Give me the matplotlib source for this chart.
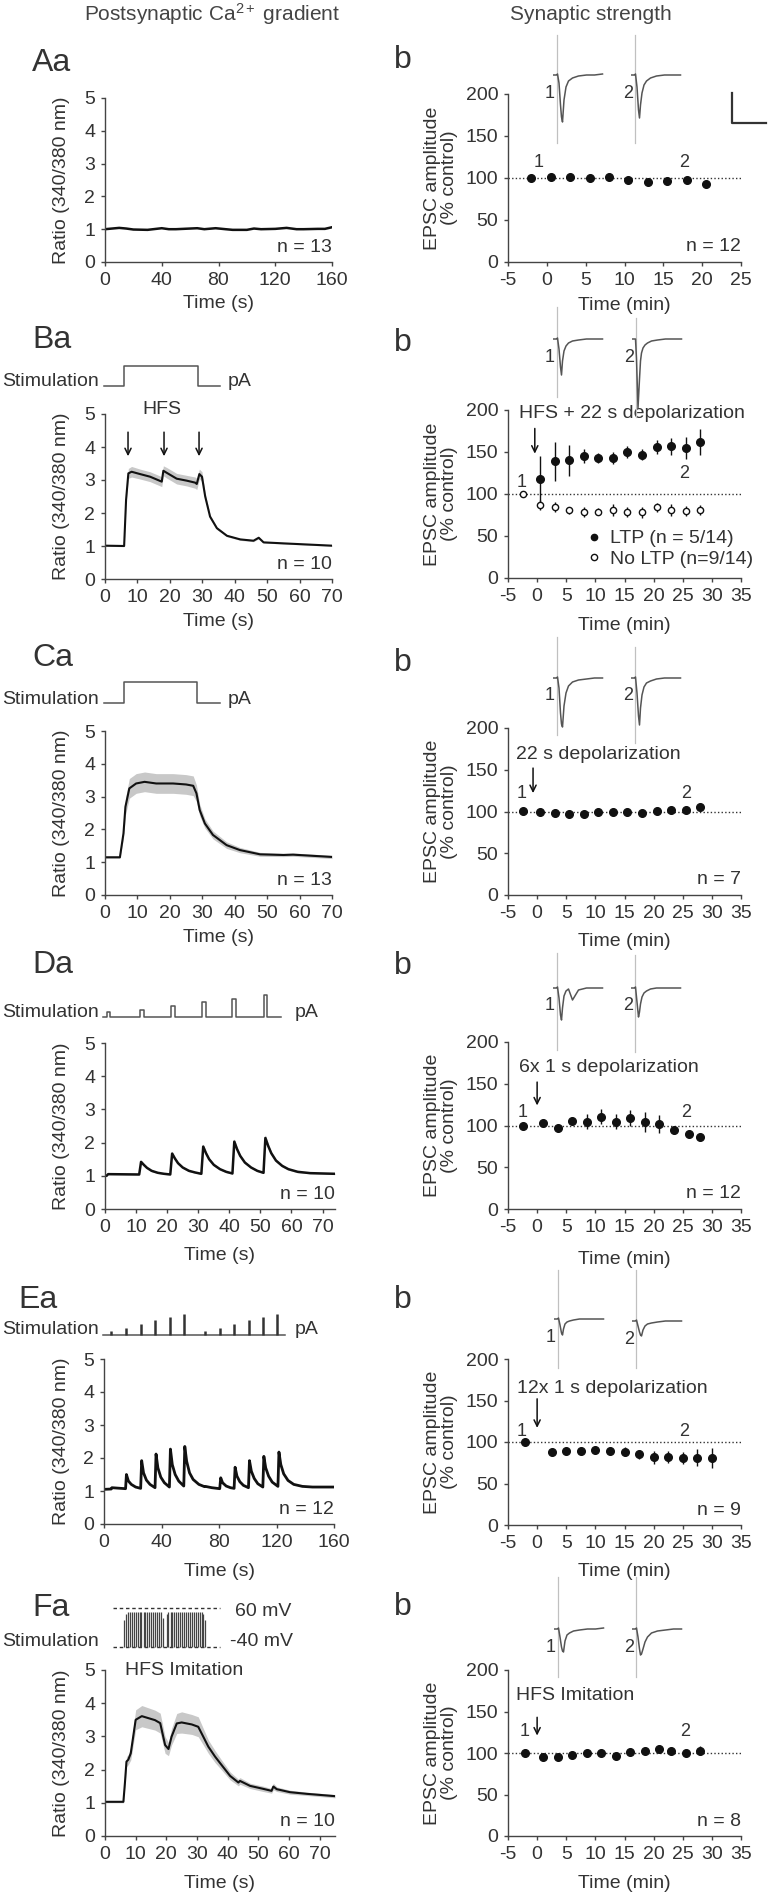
import matplotlib
matplotlib.use('Agg')
import matplotlib.pyplot as plt
from matplotlib.lines import Line2D
import numpy as np

plt.rcParams['font.family'] = ['Liberation Sans', 'DejaVu Sans']
plt.rcParams['mathtext.fontset'] = 'custom'
plt.rcParams['mathtext.rm'] = 'Liberation Sans'
plt.rcParams['mathtext.it'] = 'Liberation Sans:italic'
plt.rcParams['mathtext.bf'] = 'Liberation Sans:bold'
plt.rcParams['axes.unicode_minus'] = False

# ------------------------------------------------------------------ data
# Ca2+ ratio traces (time s, mean ratio, sem)
ca_A_t = [0, 5, 10, 15, 20, 30, 40, 45, 50, 60, 65, 70, 78, 85, 90, 100, 105, 110, 120, 128, 135, 140, 150, 155, 160]
ca_A_r = [1.0, 1.02, 1.04, 1.02, 0.99, 0.98, 1.03, 1.0, 1.0, 1.02, 1.03, 1.0, 1.03, 1.0, 0.98, 0.98, 1.02, 1.0, 1.01, 1.04, 1.0, 1.0, 1.01, 1.01, 1.06]

ca_B_t = [0, 5.9, 6.5, 7.2, 8.2, 10.8, 13.9, 17.5, 18.0, 19.0, 22.1, 25.2, 27.8, 28.3, 29.1, 29.9, 30.9, 32.4, 34.5, 37.6, 41.7, 45.8, 47.4, 48.9, 55, 70]
ca_B_r = [1.01, 1.0, 2.4, 3.2, 3.25, 3.18, 3.1, 2.95, 3.28, 3.22, 3.04, 2.98, 2.92, 2.88, 3.18, 3.1, 2.5, 1.89, 1.54, 1.31, 1.2, 1.16, 1.25, 1.11, 1.08, 1.01]
ca_B_s = [0.02, 0.02, 0.1, 0.15, 0.16, 0.15, 0.15, 0.15, 0.15, 0.16, 0.16, 0.16, 0.17, 0.17, 0.15, 0.15, 0.1, 0.06, 0.04, 0.03, 0.03, 0.03, 0.03, 0.02, 0.02, 0.02]

ca_C_t = [0, 4.6, 5.7, 6.3, 7.5, 9.6, 12.2, 15.8, 21, 25, 27.2, 28.2, 29.2, 30.8, 33.3, 37.5, 41.6, 47.8, 55, 58, 70]
ca_C_r = [1.15, 1.15, 1.88, 2.69, 3.25, 3.4, 3.45, 3.4, 3.4, 3.37, 3.33, 3.1, 2.59, 2.18, 1.83, 1.52, 1.37, 1.24, 1.22, 1.23, 1.16]
ca_C_s = [0.03, 0.03, 0.15, 0.25, 0.3, 0.3, 0.3, 0.3, 0.3, 0.3, 0.3, 0.25, 0.18, 0.14, 0.12, 0.1, 0.08, 0.06, 0.05, 0.05, 0.05]

ca_D_t = [0, 0.5, 1, 11, 11.6, 12.5, 13.5, 15, 17, 19, 21, 21.6, 22.5, 23.5, 25, 27, 29, 31, 31.6, 32.5, 33.5, 35, 37, 39, 41,
          41.6, 42.5, 43.5, 45, 47, 49, 51, 51.6, 52.5, 53.5, 55, 57, 59, 62, 66, 74]
ca_D_r = [1.0, 1.0, 1.05, 1.04, 1.42, 1.33, 1.24, 1.15, 1.09, 1.06, 1.04, 1.67, 1.52, 1.38, 1.25, 1.15, 1.1, 1.06, 1.88, 1.68, 1.5, 1.33, 1.2, 1.12, 1.07,
          2.03, 1.8, 1.6, 1.4, 1.25, 1.15, 1.09, 2.14, 1.9, 1.68, 1.46, 1.3, 1.2, 1.12, 1.08, 1.06]
ca_D_s = [0.02, 0.02, 0.02, 0.02, 0.05, 0.04, 0.03, 0.03, 0.02, 0.02, 0.02, 0.07, 0.05, 0.04, 0.03, 0.03, 0.02, 0.02, 0.08, 0.06, 0.05, 0.04, 0.03, 0.03, 0.02,
          0.09, 0.07, 0.05, 0.04, 0.03, 0.03, 0.02, 0.1, 0.08, 0.06, 0.05, 0.04, 0.03, 0.03, 0.02, 0.02]

ca_E_t = [0, 5, 5.5, 15, 15.6, 17, 19, 22, 25.5, 26.2, 27.5, 29.5, 32, 35.5, 36.2, 37.5, 39.5, 42, 45.5, 46.2, 47.5, 49.5, 52, 55.5,
          56.2, 57.5, 59.5, 62, 66, 70, 70.5, 75, 80.5, 81.2, 82.5, 85, 88, 90.5, 91.2, 92.5, 94.5, 97, 100.5, 101.2, 102.5, 104.5, 107, 110.5,
          111.2, 112.5, 114.5, 117, 121, 121.7, 123, 125, 128, 132, 138, 145, 160]
ca_E_r = [1.05, 1.06, 1.1, 1.07, 1.5, 1.3, 1.2, 1.12, 1.08, 1.92, 1.55, 1.33, 1.2, 1.1, 2.12, 1.7, 1.42, 1.25, 1.12, 2.27, 1.8, 1.5, 1.3, 1.15,
          2.35, 1.9, 1.55, 1.35, 1.2, 1.13, 1.14, 1.1, 1.07, 1.4, 1.25, 1.15, 1.1, 1.08, 1.72, 1.45, 1.28, 1.17, 1.1, 1.92, 1.6, 1.38, 1.22, 1.12,
          2.05, 1.7, 1.45, 1.27, 1.14, 2.18, 1.8, 1.52, 1.32, 1.2, 1.14, 1.12, 1.12]

ca_F_t = [0, 6.0, 6.5, 7.0, 7.6, 8.4, 10.0, 12.0, 16.3, 18.0, 19.6, 20.7, 21.7, 23.4, 25.0, 28.3, 30.4, 32.0, 33.7, 35.9,
          38.0, 40.8, 43.5, 44.0, 47.3, 51.6, 54.3, 54.9, 56.0, 60.3, 65.8, 75]
ca_F_r = [1.03, 1.03, 1.6, 2.24, 2.3, 2.49, 3.5, 3.61, 3.49, 3.4, 2.74, 2.62, 2.99, 3.39, 3.42, 3.36, 3.29, 3.0, 2.69, 2.39,
          2.14, 1.81, 1.61, 1.66, 1.51, 1.42, 1.36, 1.49, 1.41, 1.32, 1.27, 1.2]
ca_F_s = [0.03, 0.03, 0.1, 0.15, 0.15, 0.2, 0.3, 0.32, 0.3, 0.3, 0.25, 0.2, 0.25, 0.3, 0.32, 0.3, 0.3, 0.25, 0.2, 0.18,
          0.15, 0.12, 0.1, 0.1, 0.08, 0.08, 0.07, 0.1, 0.07, 0.06, 0.05, 0.05]

# stimulation protocols
stim_B_t = [-0.2, 6.0, 6.0, 28.6, 28.6, 35.5]
stim_B_v = [0, 0, 1, 1, 0, 0]
stim_C_t = [-0.2, 5.8, 5.8, 28.5, 28.5, 35.4]
stim_C_v = [0, 0, 1, 1, 0, 0]
stim_D_on = [0.5, 11.2, 21.3, 31.3, 41.0, 51.0]
stim_D_amp = [1.0, 1.4, 2.2, 3.0, 3.6, 4.4]
stim_D_dur = 1.2
stim_D_span = [-0.5, 56.6]
stim_E_t = [5.1, 15.5, 26.0, 35.7, 45.7, 55.7, 70.0, 80.5, 90.4, 100.6, 110.6, 120.6]
stim_E_amp = [1.0, 1.7, 2.5, 3.5, 4.1, 5.0, 1.0, 1.7, 2.5, 3.5, 4.1, 5.0]
stim_E_span = [-0.7, 125.7]
stim_F_span = [2.6, 37.5]
stim_F_levels = [60, -40]
stim_F_t = [6.3, 6.9, 7.5, 8.1, 8.8, 9.4, 10.0, 10.7, 11.3, 11.9, 12.6, 13.2, 13.8, 14.5, 15.1, 15.7, 16.4, 17.0, 17.6, 18.3, 18.9,
            20.1, 20.7, 21.4, 22.0, 22.6, 23.3, 23.9, 24.5, 25.2, 25.8, 26.4, 27.1, 27.7, 28.3, 29.0, 29.6, 30.2, 30.9, 31.5, 32.1, 32.6]
stim_F_peak = [30, 45, 50, 50, 50, 50, 50, 50, 50, 50, 50, 50, 50, 50, 50, 50, 50, 50, 50, 50, 35,
               45, 50, 50, 50, 50, 50, 50, 50, 50, 50, 50, 50, 50, 50, 50, 50, 50, 50, 50, 45, 30]

# EPSC amplitude time courses (min, % control, sem)
ab_x = [-2, 0.5, 3, 5.5, 8, 10.5, 13, 15.5, 18, 20.5]
ab_y = [100.4, 100.8, 101.6, 100.4, 101.6, 97.6, 95.2, 96, 97.6, 92.9]
ab_e = [2, 2, 2, 2, 3, 3, 4, 4, 4, 4]

bb_ltp_x = [0.5, 3, 5.5, 8, 10.5, 13, 15.5, 18, 20.5, 23, 25.5, 28]
bb_ltp_y = [117.5, 139, 140, 145, 143, 143, 149.6, 147, 156, 157, 155, 162]
bb_ltp_e = [28, 23, 18, 8, 6, 7, 7, 6, 8, 10, 13, 15]
bb_no_x = [-2.5, 0.5, 3, 5.5, 8, 10.5, 13, 15.5, 18, 20.5, 23, 25.5, 28]
bb_no_y = [100, 87, 85, 80.5, 79, 79, 81, 79, 78, 84, 81, 80, 81]
bb_no_e = [0, 6, 6, 4, 6, 4, 7, 6, 7, 5, 7, 6, 6]

cb_x = [-2.5, 0.5, 3, 5.5, 8, 10.5, 13, 15.5, 18, 20.5, 23, 25.5, 28]
cb_y = [100.6, 99, 98, 97.5, 97, 99.8, 99.4, 99.4, 98.6, 101, 101.4, 101.4, 105.8]
cb_e = [1, 1, 1, 1, 1, 1, 1, 1, 2, 2, 2, 2, 2]

db_x = [-2.5, 1, 3.5, 6, 8.5, 11, 13.5, 16, 18.5, 21, 23.5, 26, 28]
db_y = [100, 103, 97.5, 105, 104.5, 110.5, 104.5, 109, 104.5, 102, 94.5, 90, 86]
db_e = [2, 3, 2, 3, 9, 9, 9, 9, 12, 11, 5, 3, 3]

eb_x = [-2, 2.5, 5, 7.5, 10, 12.5, 15, 17.5, 20, 22.5, 25, 27.5, 30]
eb_y = [100.4, 88.3, 89, 89.6, 90.4, 89.6, 88.4, 85, 81.7, 81.7, 81, 81, 81]
eb_e = [1, 2, 2, 2, 2, 4, 5, 5, 8, 7, 7, 10, 12]

fb_x = [-2, 1, 3.5, 6, 8.5, 11, 13.5, 16, 18.5, 21, 23, 25.5, 28]
fb_y = [100.4, 94.8, 95, 97, 99.6, 99.6, 96.4, 101, 103, 104.5, 102.6, 100.4, 103]
fb_e = [2, 2, 3, 2, 2, 2, 2, 2, 2, 3, 3, 4, 5]

# example EPSC traces (ms, relative current) and stimulus artifacts (up, down)
tr_t = [0, 4, 5, 6.5, 8, 9, 10, 11.5, 13.5, 16, 20, 26, 34, 42, 50]
epsc_A1 = [0, 0, 1, -8, -30, -42, -47, -25, -12, -6, -3, -1, 0, 0, 1]
epsc_A2 = [0, 0, 1, -12, -35, -43, -30, -18, -10, -6, -3, -1, 0, 0, 0]
epsc_B1 = [0, 0, 1, -10, -28, -36, -22, -12, -7, -4, -2, -1, 0, 0, 0]
epsc_B2 = [0, 0, -20, -69, -40, -22, -14, -9, -6, -4, -2, -1, 0, 0, 0]
epsc_C1 = [0, 0, 1, -10, -35, -46, -49, -28, -15, -8, -4, -2, -1, 0, 0]
epsc_C2 = [0, 0, 1, -15, -38, -47, -30, -17, -9, -5, -3, -1, 0, 0, 0]
epsc_D1 = [0, 0, 1, -10, -27, -32, -20, -8, -3, -1, -12, -2, 0, 0, 0]
epsc_D2 = [0, 0, 1, -14, -29, -24, -16, -9, -5, -3, -1, 0, 0, 0, 0]
epsc_E1 = [0, 0, 1, -6, -14, -16, -10, -5, -3, -2, -1, 0, 0, 0, 0]
epsc_E2 = [0, 0, 1, -5, -11, -14, -15, -9, -5, -3, -2, -1, 0, 0, 0]
epsc_F1 = [0, 0, 1, -8, -18, -22, -23, -12, -6, -4, -2, -1, 0, 0, 1]
epsc_F2 = [0, 0, 1, -8, -20, -26, -25, -20, -13, -8, -4, -2, -1, 0, 0]
art_A1, art_A2 = [40, -68], [40, -68]
art_B1, art_B2 = [32, -58], [21, -78]
art_C1, art_C2 = [41, -57], [31, -65]
art_D1, art_D2 = [35, -62], [33, -64]
art_E1, art_E2 = [49, -49], [51, -47]
art_F1, art_F2 = [52, -48], [52, -48]

# ------------------------------------------------------------------ figure
W, H = 768, 1896
fig = plt.figure(figsize=(W / 100, H / 100), dpi=100)
TXT = '#333333'
AXC = '#444444'
FS = 14


def axpx(l, t, r, b):
    return fig.add_axes([l / W, 1 - b / H, (r - l) / W, (b - t) / H])


def ftext(x, y, s, **kw):
    kw.setdefault('fontsize', FS)
    kw.setdefault('color', TXT)
    kw.setdefault('va', 'center')
    fig.text(x / W, 1 - y / H, s, **kw)


def style(ax, xlim, xticks, ylim, yticks):
    ax.set_xlim(*xlim)
    ax.set_ylim(*ylim)
    ax.set_xticks(xticks)
    ax.set_yticks(yticks)
    for s in ('top', 'right'):
        ax.spines[s].set_visible(False)
    for s in ('left', 'bottom'):
        ax.spines[s].set_color(AXC)
        ax.spines[s].set_linewidth(1.0)
    ax.tick_params(direction='out', length=3, width=1, colors=AXC, labelcolor=TXT, labelsize=FS, pad=4)
    ax.patch.set_alpha(0)


def a_panel(box, t, r, s, xlim, xticks, ntxt, xlabel_y, lw=1.5):
    ax = axpx(*box)
    t = np.asarray(t); r = np.asarray(r)
    if s is not None:
        s = np.asarray(s)
        ax.fill_between(t, r - s, r + s, color='#c8c8c8', lw=0)
    ax.plot(t, r, color='#111111', lw=lw, solid_joinstyle='round')
    style(ax, xlim, xticks, (0, 5), range(6))
    ax.text(1.0, 0.09, ntxt, transform=ax.transAxes, ha='right', va='center', fontsize=FS, color=TXT)
    l, tp, rr, b = box
    ftext(62, (tp + b) / 2, 'Ratio (340/380 nm)', rotation=90, ha='center')
    ftext((l + rr) / 2, xlabel_y, 'Time (s)', ha='center')
    return ax


def b_panel(box, xlim, xticks, ntxt, xlabel_y):
    ax = axpx(*box)
    style(ax, xlim, xticks, (0, 200), [0, 50, 100, 150, 200])
    ax.axhline(100, ls=(0, (1, 1.6)), color='#333333', lw=1.0, zorder=1)
    if ntxt:
        ax.text(1.0, 0.09, ntxt, transform=ax.transAxes, ha='right', va='center', fontsize=FS, color=TXT)
    l, tp, rr, b = box
    ftext(441, (tp + b) / 2, 'EPSC amplitude\n(% control)', rotation=90, ha='center', linespacing=1.05)
    ftext((l + rr) / 2, xlabel_y, 'Time (min)', ha='center')
    return ax


def pts(ax, x, y, e, face='#111111', ms=5.5):
    ax.errorbar(x, y, yerr=e, fmt='o', ms=ms, mfc=face, mec='#111111', mew=1.0,
                ecolor='#111111', elinewidth=1.0, capsize=0, zorder=3)


def marks(ax, p1, p2):
    ax.text(p1[0], p1[1], '1', ha='center', va='center', fontsize=13, color=TXT)
    ax.text(p2[0], p2[1], '2', ha='center', va='center', fontsize=13, color=TXT)


def arrow(ax, x, y0, y1):
    ax.annotate('', xy=(x, y1), xytext=(x, y0),
                arrowprops=dict(arrowstyle='->,head_length=0.45,head_width=0.22', color='#111111', lw=1.1,
                                shrinkA=0, shrinkB=0), annotation_clip=False)


def inset(art_x, base_y, vals, art):
    ax = axpx(art_x - 4.5, base_y - 60, art_x - 4.5 + 52, base_y + 90)
    ax.set_xlim(0, 52)
    ax.set_ylim(-90, 60)
    ax.axis('off')
    ax.plot([4.5, 4.5], art, color='#c0c0c0', lw=0.9)
    ax.plot(tr_t, vals, color='#555555', lw=1.1)
    ftext(art_x - 7, base_y + 18, '1' if art_x < 600 else '2', ha='center', fontsize=13)


def stim_ax(l, r, top, bottom, y0_px, v0, ppu, xlim):
    ax = axpx(l, top, r, bottom)
    ax.set_xlim(*xlim)
    ax.set_ylim(v0 - (bottom - y0_px) / ppu, v0 + (y0_px - top) / ppu)
    ax.axis('off')
    return ax


# headers
ftext(212, 14, 'Postsynaptic Ca$^{2+}$ gradient', ha='center', fontsize=15, color='#444444')
ftext(591, 14, 'Synaptic strength', ha='center', fontsize=15, color='#444444')

PL = 23
# ---------------- Row A
ftext(32, 63, 'Aa', fontsize=PL)
ftext(394, 60, 'b', fontsize=PL)
a_panel((105, 98, 332, 262), ca_A_t, ca_A_r, None, (0, 160), [0, 40, 80, 120, 160], 'n = 13', 304, lw=1.8)
ax = b_panel((508, 94, 741, 262), (-5, 25), range(-5, 30, 5), 'n = 12', 306)
pts(ax, ab_x, ab_y, ab_e)
marks(ax, (-1, 119), (17.7, 119))
inset(557, 75, epsc_A1, art_A1)
inset(635, 75, epsc_A2, art_A2)
fig.add_artist(Line2D([732 / W, 732 / W, 766 / W], [1 - 93 / H, 1 - 123 / H, 1 - 123 / H], color='#333333', lw=1.6))

# ---------------- Row B
ftext(32, 340, 'Ba', fontsize=PL)
ftext(394, 343, 'b', fontsize=PL)
ax = a_panel((105, 414, 332, 579), ca_B_t, ca_B_r, ca_B_s, (0, 70), range(0, 80, 10), 'n = 10', 621)
for tx in (7.1, 18.2, 29.0):
    arrow(ax, tx, 4.45, 3.72)
ax.text(17.6, 5.15, 'HFS', ha='center', va='center', fontsize=FS, color=TXT, clip_on=False)
sax = stim_ax(105, 332, 356, 392, 386, 0, 20, (0, 70))
sax.plot(stim_B_t, stim_B_v, color='#555555', lw=1.1, clip_on=False)
ftext(2, 381, 'Stimulation')
ftext(228, 381, 'pA')

ax = b_panel((508, 410, 741, 578), (-5, 35), range(-5, 40, 5), None, 625)
pts(ax, bb_ltp_x, bb_ltp_y, bb_ltp_e)
pts(ax, bb_no_x, bb_no_y, bb_no_e, face='white', ms=4.5)
marks(ax, (-2.6, 114), (25.3, 125))
arrow(ax, -0.4, 178, 148)
ax.text(-3.1, 196, 'HFS + 22 s depolarization', ha='left', va='center', fontsize=FS, color=TXT, clip_on=False)
hl = [Line2D([], [], ls='none', marker='o', ms=4.5, mfc='#111111', mec='#111111'),
      Line2D([], [], ls='none', marker='o', ms=4.5, mfc='white', mec='#111111')]
leg = ax.legend(hl, ['LTP (n = 5/14)', 'No LTP (n=9/14)'], loc='lower right', bbox_to_anchor=(1.1, -0.01),
                frameon=False, fontsize=FS, handlelength=0.6, handletextpad=0.5, labelspacing=0.15, borderpad=0.1)
for t in leg.get_texts():
    t.set_color(TXT)
inset(557, 339, epsc_B1, art_B1)
inset(636, 339, epsc_B2, art_B2)

# ---------------- Row C
ftext(32, 658, 'Ca', fontsize=PL)
ftext(394, 663, 'b', fontsize=PL)
a_panel((105, 731, 332, 895), ca_C_t, ca_C_r, ca_C_s, (0, 70), range(0, 80, 10), 'n = 13', 937)
sax = stim_ax(105, 332, 674, 709, 703, 0, 21, (0, 70))
sax.plot(stim_C_t, stim_C_v, color='#555555', lw=1.1, clip_on=False)
ftext(2, 699, 'Stimulation')
ftext(228, 699, 'pA')

ax = b_panel((508, 728, 741, 895), (-5, 35), range(-5, 40, 5), 'n = 7', 942)
pts(ax, cb_x, cb_y, cb_e)
marks(ax, (-2.6, 122), (25.5, 122))
arrow(ax, -0.7, 152, 122)
ax.text(-3.6, 168, '22 s depolarization', ha='left', va='center', fontsize=FS, color=TXT)
inset(557, 678, epsc_C1, art_C1)
inset(635, 678, epsc_C2, art_C2)

# ---------------- Row D
ftext(32, 965, 'Da', fontsize=PL)
ftext(394, 966, 'b', fontsize=PL)
a_panel((105, 1043, 335, 1209), ca_D_t, ca_D_r, ca_D_s, (0, 74), range(0, 80, 10), 'n = 10', 1256, lw=1.8)
sax = stim_ax(105, 335, 985, 1022, 1017, 0, 5, (0, 74))
sx, sy = [stim_D_span[0]], [0]
for on, a in zip(stim_D_on, stim_D_amp):
    sx += [on, on, on + stim_D_dur, on + stim_D_dur]
    sy += [0, a, a, 0]
sx.append(stim_D_span[1]); sy.append(0)
sax.plot(sx, sy, color='#555555', lw=1.1, clip_on=False)
ftext(2, 1012, 'Stimulation')
ftext(295, 1012, 'pA')

ax = b_panel((508, 1042, 741, 1209), (-5, 35), range(-5, 40, 5), 'n = 12', 1259)
pts(ax, db_x, db_y, db_e)
marks(ax, (-2.5, 115), (25.5, 115))
arrow(ax, 0, 152, 124)
ax.text(-3.1, 170, '6x 1 s depolarization', ha='left', va='center', fontsize=FS, color=TXT)
inset(557, 988, epsc_D1, art_D1)
inset(635, 988, epsc_D2, art_D2)

# ---------------- Row E
ftext(18, 1300, 'Ea', fontsize=PL)
ftext(394, 1300, 'b', fontsize=PL)
a_panel((104, 1359, 334, 1524), ca_E_t, ca_E_r, None, (0, 160), [0, 40, 80, 120, 160], 'n = 12', 1571, lw=2.0)
sax = stim_ax(104, 334, 1300, 1340, 1335, 0, 4.3, (0, 160))
sax.plot(stim_E_span, [0, 0], color='#555555', lw=1.1, clip_on=False)
sax.vlines(stim_E_t, 0, stim_E_amp, color='#333333', lw=1.8)
ftext(2, 1330, 'Stimulation')
ftext(295, 1330, 'pA')

ax = b_panel((508, 1359, 741, 1525), (-5, 35), range(-5, 40, 5), 'n = 9', 1571)
pts(ax, eb_x, eb_y, eb_e)
marks(ax, (-2.6, 113), (25.3, 113))
arrow(ax, 0, 152, 117)
ax.text(-3.5, 165, '12x 1 s depolarization', ha='left', va='center', fontsize=FS, color=TXT)
inset(558, 1319, epsc_E1, art_E1)
inset(636, 1321, epsc_E2, art_E2)

# ---------------- Row F
ftext(32, 1608, 'Fa', fontsize=PL)
ftext(394, 1607, 'b', fontsize=PL)
ax = a_panel((105, 1670, 335, 1836), ca_F_t, ca_F_r, ca_F_s, (0, 75), range(0, 80, 10), 'n = 10', 1883)
ax.text(6.5, 4.97, 'HFS Imitation', ha='left', va='center', fontsize=FS, color=TXT)
sax = stim_ax(105, 335, 1600, 1655, 1647, -40, 0.39, (0, 75))
for lev in stim_F_levels:
    sax.plot(stim_F_span, [lev, lev], color='#333333', lw=1.0, ls=(0, (2.5, 2)), clip_on=False)
sax.vlines(stim_F_t, stim_F_levels[1], stim_F_peak, color='#444444', lw=0.9)
ftext(2, 1642, 'Stimulation')
ftext(235, 1611, '60 mV')
ftext(230, 1641, '-40 mV')

ax = b_panel((508, 1670, 741, 1836), (-5, 35), range(-5, 40, 5), 'n = 8', 1883)
pts(ax, fb_x, fb_y, fb_e)
marks(ax, (-2.2, 126), (25.4, 126))
arrow(ax, 0, 143, 121)
ax.text(-3.6, 169, 'HFS Imitation', ha='left', va='center', fontsize=FS, color=TXT)
inset(558, 1629, epsc_F1, art_F1)
inset(636, 1629, epsc_F2, art_F2)

fig.savefig('out.png', dpi=100)
